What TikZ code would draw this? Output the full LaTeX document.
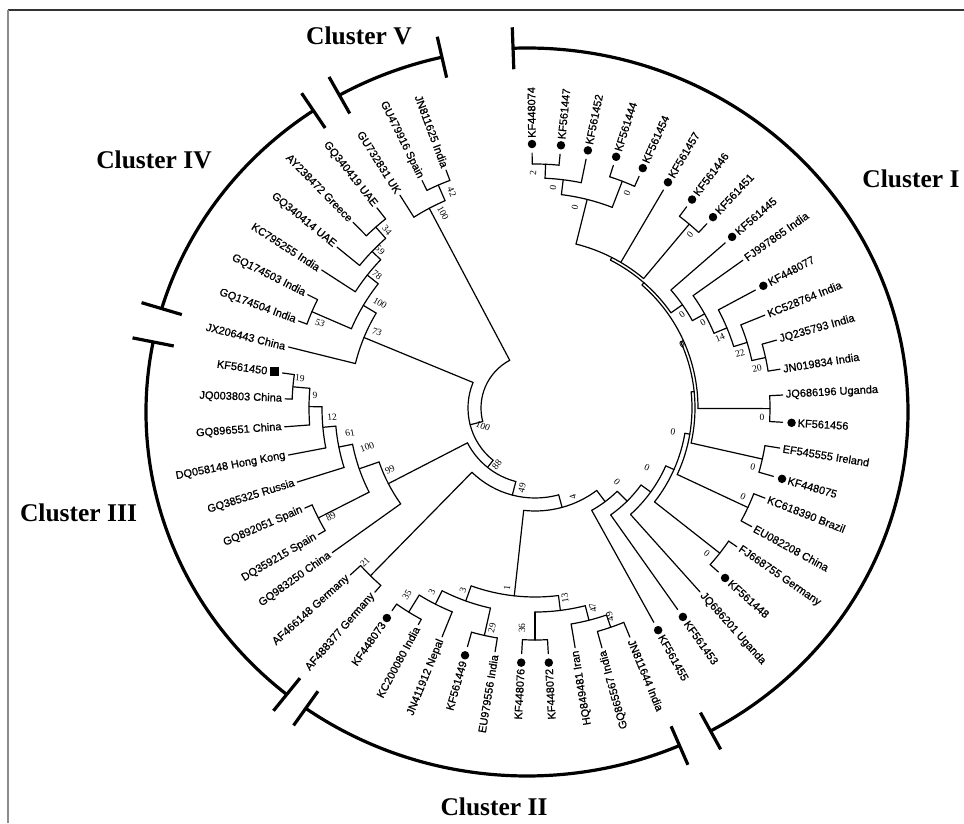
\documentclass[tikz,border=0pt]{standalone}
\usepackage{fontspec}
\setmainfont{Liberation Serif}
\newfontfamily\labfont[FakeBold=0.8]{Liberation Sans}
\tikzset{
  br/.style={line width=1.2pt, line cap=round},
  lab/.style={font=\labfont\fontsize{11}{12}\selectfont, inner sep=0pt},
  bs/.style={font=\fontsize{9.5}{10}\selectfont, inner sep=0pt},
  cl/.style={font=\bfseries\fontsize{25.5}{28}\selectfont, inner sep=0pt},
  dotn/.style={circle, fill=black, inner sep=0pt, minimum size=8.5pt},
  sqn/.style={rectangle, fill=black, inner sep=0pt, minimum size=9pt},
  outer/.style={line width=3.2pt},
}
\newcommand{\Arc}[3]{\draw[br] (#2:#1) arc[start angle=#2, end angle=#3, radius=#1pt];}
\newcommand{\Lnk}[3]{\draw[br] (#1:#2) -- (#1:#3);}
\newcommand{\LabR}[4]{\node[lab,rotate=#2,anchor=west] (#1) at (#2:#3) {#4};}
\newcommand{\LabL}[4]{\node[lab,rotate=#2+180,anchor=east] (#1) at (#2:#3) {#4};}
\newcommand{\Dot}[3]{\node[dotn] (#1) at (#2:#3) {};}
\newcommand{\BS}[5]{\node[bs,rotate=#4] (#1) at (#2,#3) {#5};}
\newcommand{\Clu}[2]{%
  \draw[outer] ({-8+381*cos(#1)},{-4+364*sin(#1)}) arc[start angle=#1, end angle=#2, x radius=381pt, y radius=364pt];
  \draw[outer] ({-8+360*cos(#1)},{-4+343*sin(#1)}) -- ({-8+402*cos(#1)},{-4+385*sin(#1)});
  \draw[outer] ({-8+360*cos(#2)},{-4+343*sin(#2)}) -- ({-8+402*cos(#2)},{-4+385*sin(#2)});}
\begin{document}
\begin{tikzpicture}[x=1pt,y=1pt]
\useasboundingbox (-535,-415) rectangle (429,408);
% frame lines
\draw[line width=1.5pt, black!80] (-527,398) -- (429,398);
\draw[line width=1.8pt, black!45] (-527,398) -- (-527,-415);
% ---------- tree ----------
\Arc{54}{117.9}{194.5}
% cluster V
\Lnk{117.9}{54}{226} \Arc{226}{113.45}{122.4}
\Lnk{122.4}{226}{252}
\Lnk{113.45}{226}{243} \Arc{243}{110.5}{116.4}
\Lnk{116.4}{243}{254} \Lnk{110.5}{243}{254}
% N100
\Lnk{194.5}{54}{67} \Arc{67}{157.6}{231.35}
% cluster IV
\Lnk{157.6}{67}{185} \Arc{185}{149.13}{166.1}
\Lnk{166.1}{185}{254}
\Lnk{149.13}{185}{200} \Arc{200}{141.6}{156.65}
\Lnk{156.65}{200}{243} \Arc{243}{153.5}{159.8}
\Lnk{159.8}{243}{252} \Lnk{153.5}{243}{254}
\Lnk{141.6}{200}{214} \Arc{214}{136.13}{147.1}
\Lnk{147.1}{214}{254}
\Lnk{136.13}{214}{226} \Arc{226}{131.35}{140.9}
\Lnk{140.9}{226}{255}
\Lnk{131.35}{226}{241} \Arc{241}{128.3}{134.4}
\Lnk{134.4}{241}{260} \Lnk{128.3}{241}{255}
% N88
\Lnk{231.35}{67}{76} \Arc{76}{207.29}{255.4}
% cluster III
\Lnk{207.29}{76}{165} \Arc{165}{199.08}{215.5}
\Lnk{215.5}{165}{249}
\Lnk{199.08}{165}{186} \Arc{186}{191.25}{206.9}
\Lnk{206.9}{186}{243} \Arc{243}{203.5}{210.3}
\Lnk{203.5}{243}{251} \Lnk{210.3}{243}{251}
\Lnk{191.25}{186}{200} \Arc{200}{185.2}{197.3}
\Lnk{197.3}{200}{249}
\Lnk{185.2}{200}{213} \Arc{213}{179.65}{190.8}
\Lnk{190.8}{213}{251}
\Lnk{179.65}{213}{226} \Arc{226}{175}{184.3}
\Lnk{184.3}{226}{251}
\Lnk{175}{226}{243} \Arc{243}{172.1}{177.9}
\Lnk{177.9}{243}{250} \Lnk{172.1}{243}{255}
% N49
\Lnk{255.4}{76}{90} \Arc{90}{225.55}{285.26}
\Lnk{225.55}{90}{235} \Arc{235}{222.1}{229}
\Lnk{222.1}{235}{249} \Lnk{229}{235}{244}
% N4
\Lnk{285.26}{90}{103} \Arc{103}{263.7}{306.83}
% cluster II
\Lnk{263.7}{103}{189} \Arc{189}{250.26}{277.14}
\Lnk{250.26}{189}{205} \Arc{205}{243.07}{257.45}
\Lnk{243.07}{205}{220} \Arc{220}{238.25}{247.9}
\Lnk{247.9}{220}{247}
\Lnk{238.25}{220}{240} \Arc{240}{234.8}{241.7}
\Lnk{241.7}{240}{246} \Lnk{234.8}{240}{248}
\Lnk{257.45}{205}{233} \Arc{233}{254.2}{260.7}
\Lnk{260.7}{233}{247} \Lnk{254.2}{233}{248}
\Lnk{277.14}{189}{204} \Arc{204}{270}{284.27}
\Lnk{270}{204}{232} \Arc{232}{266.9}{273.1}
\Lnk{273.1}{232}{246} \Lnk{266.9}{232}{246}
\Lnk{284.27}{204}{219} \Arc{219}{279.5}{289.05}
\Lnk{279.5}{219}{243}
\Lnk{289.05}{219}{232} \Arc{232}{285.6}{292.5}
\Lnk{285.6}{232}{249} \Lnk{292.5}{232}{248}
% cluster I spine
\Lnk{306.83}{103}{117} \Arc{117}{299}{314.66}
\Lnk{299}{117}{245}
\Lnk{314.66}{117}{131} \Arc{131}{305.3}{324.02}
\Lnk{305.3}{131}{247}
\Lnk{324.02}{131}{143} \Arc{143}{311.9}{336.13}
\Lnk{311.9}{143}{247}
\Lnk{336.13}{143}{152} \Arc{152}{321.85}{350.42}
\Lnk{321.85}{152}{235} \Arc{235}{318.2}{325.5}
\Lnk{325.5}{235}{245} \Lnk{318.2}{235}{246}
\Lnk{350.42}{152}{157} \Arc{157}{334.95}{365.885}
\Lnk{334.95}{157}{235} \Arc{235}{331.3}{338.6}
\Lnk{338.6}{235}{247} \Lnk{331.3}{235}{247}
\Lnk{365.885}{157}{160} \Arc{160}{347.35}{384.42}
\Lnk{347.35}{160}{233} \Arc{233}{344}{350.7}
\Lnk{350.7}{233}{248} \Lnk{344}{233}{248}
\Lnk{384.42}{160}{163} \Arc{163}{359.85}{408.99}
\Lnk{359.85}{163}{235} \Arc{235}{356.7}{363}
\Lnk{363}{235}{248} \Lnk{356.7}{235}{248}
\Lnk{48.99}{163}{166} \Arc{166}{35}{62.98}
\Lnk{35}{166}{180} \Arc{180}{29.03}{40.96}
\Lnk{40.96}{180}{252}
\Lnk{29.03}{180}{194} \Arc{194}{22.66}{35.4}
\Lnk{35.4}{194}{255}
\Lnk{22.66}{194}{208} \Arc{208}{17.18}{28.15}
\Lnk{28.15}{208}{250}
\Lnk{17.18}{208}{222} \Arc{222}{12.35}{22}
\Lnk{22}{222}{248}
\Lnk{12.35}{222}{236} \Arc{236}{9}{15.7}
\Lnk{15.7}{236}{251} \Lnk{9}{236}{248}
\Lnk{62.98}{166}{169} \Arc{169}{50}{75.95}
\Lnk{59.5}{169}{253}
\Lnk{50}{169}{240} \Arc{240}{47}{53}
\Lnk{53}{240}{252} \Lnk{47}{240}{252}
\Lnk{75.95}{169}{215} \Arc{215}{68.95}{82.95}
\Lnk{82.95}{215}{230} \Arc{230}{78.4}{87.5}
\Lnk{78.4}{230}{254}
\Lnk{87.5}{230}{244} \Arc{244}{84.35}{90.65}
\Lnk{90.65}{244}{255} \Lnk{84.35}{244}{255}
\Lnk{68.95}{215}{243} \Arc{243}{65.8}{72.1}
\Lnk{72.1}{243}{255} \Lnk{65.8}{243}{254}
% ---------- markers ----------
\Dot{d1}{90.65}{264} \Dot{d2}{84.35}{264} \Dot{d3}{78.4}{263} \Dot{d4}{72.1}{264}
\Dot{d5}{65.8}{263} \Dot{d6}{59.5}{262} \Dot{d7}{53}{261} \Dot{d8}{47}{261}
\Dot{d9}{40.96}{261} \Dot{d11}{28.15}{259} \Dot{d16}{-3.3}{257} \Dot{d18}{-16}{257}
\Dot{d22}{-41.8}{255} \Dot{d24}{-54.7}{256} \Dot{d25}{-61}{254} \Dot{d29}{-86.9}{255}
\Dot{d30}{-93.1}{255} \Dot{d32}{-105.8}{257} \Dot{d35}{-125.2}{257}
\node[sqn] (d45) at (172.1:263) {};
% ---------- leaf labels ----------
\LabR{t1}{90.65}{270}{KF448074}
\LabR{t2}{84.35}{270}{KF561447}
\LabR{t3}{78.4}{269}{KF561452}
\LabR{t4}{72.1}{270}{KF561444}
\LabR{t5}{65.8}{269}{KF561454}
\LabR{t6}{59.5}{268}{KF561457}
\LabR{t7}{53}{267}{KF561446}
\LabR{t8}{47}{267}{KF561451}
\LabR{t9}{40.96}{267}{KF561445}
\LabR{t10}{35.4}{258}{FJ997865 India}
\LabR{t11}{28.15}{265}{KF448077}
\LabR{t12}{22}{251}{KC528764 India}
\LabR{t13}{15.7}{254}{JQ235793 India}
\LabR{t14}{9}{251}{JN019834 India}
\LabR{t15}{3}{251}{JQ686196 Uganda}
\LabR{t16}{-3.3}{263}{KF561456}
\LabR{t17}{-9.3}{251}{EF545555 Ireland}
\LabR{t18}{-16}{263}{KF448075}
\LabR{t19}{-21.4}{250}{KC618390 Brazil}
\LabR{t20}{-28.7}{250}{EU082208 China}
\LabR{t21}{-34.5}{248}{FJ668755 Germany}
\LabR{t22}{-41.8}{261}{KF561448}
\LabR{t23}{-48.1}{250}{JQ686201 Uganda}
\LabR{t24}{-54.7}{262}{KF561453}
\LabR{t25}{-61}{260}{KF561455}
\LabR{t26}{-67.5}{251}{JN811644 India}
\LabL{t27}{-74.4}{252}{GQ865567 India}
\LabL{t28}{-80.5}{246}{HQ849481 Iran}
\LabL{t29}{-86.9}{261}{KF448072}
\LabL{t30}{-93.1}{261}{KF448076}
\LabL{t31}{-99.3}{250}{EU979556 India}
\LabL{t32}{-105.8}{263}{KF561449}
\LabL{t33}{-112.1}{250}{JN411912 Nepal}
\LabL{t34}{-118.3}{249}{KC200080 India}
\LabL{t35}{-125.2}{263}{KF448073}
\LabL{t36}{-131}{247}{AF488377 Germany}
\LabL{t37}{-137.9}{252}{AF466148 Germany}
\LabL{t38}{-144.5}{252}{GQ983250 China}
\LabL{t39}{-149.7}{254}{DQ359215 Spain}
\LabL{t40}{-156.5}{254}{GQ892051 Spain}
\LabL{t41}{-162.7}{252}{GQ385325 Russia}
\LabL{t42}{-169.2}{254}{DQ058148 Hong Kong}
\LabL{t43}{-175.7}{254}{GQ896551 China}
\LabL{t44}{177.9}{253}{JQ003803 China}
\LabL{t45}{172.1}{270}{KF561450}
\LabL{t46}{166.1}{257}{JX206443 China}
\LabL{t47}{159.8}{255}{GQ174504 India}
\LabL{t48}{153.5}{257}{GQ174503 India}
\LabL{t49}{147.1}{257}{KC795255 India}
\LabL{t50}{140.9}{258}{GQ340414 UAE}
\LabL{t51}{134.4}{263}{AY238472 Greece}
\LabL{t52}{128.3}{258}{GQ340419 UAE}
\LabL{t53}{122.4}{255}{GU732831 UK}
\LabL{t54}{116.4}{257}{GU479916 Spain}
\LabL{t55}{110.5}{257}{JN811625 India}
% ---------- bootstrap values ----------
\BS{b1}{-2}{235}{87.5}{2}
\BS{b2}{18}{220}{83}{0}
\BS{b3}{92}{215}{69}{0}
\BS{b4}{40}{201}{76}{0}
\BS{b5}{155}{173}{50}{0}
\BS{b6}{147}{93}{35}{0}
\BS{b7}{168}{85}{29}{0}
\BS{b8}{147}{63}{24}{0}
\BS{b9}{185}{70}{23}{14}
\BS{b10}{205}{55}{17}{22}
\BS{b11}{222}{40}{12}{20}
\BS{b12}{227}{-9}{0}{0}
\BS{b13}{218}{-59}{-13}{0}
\BS{b14}{208}{-89}{-25}{0}
\BS{b15}{172}{-146}{-38}{0}
\BS{b16}{138}{-24}{-10}{0}
\BS{b17}{112}{-60}{-24}{0}
\BS{b18}{82}{-74}{-45}{0}
\BS{b19}{38}{-89}{105}{4}
\BS{b20}{-13}{-80}{75}{49}
\BS{b21}{-38}{-57}{51}{88}
\BS{b22}{-52}{-18}{-22}{100}
\BS{b23}{-28}{-180}{84}{1}
\BS{b24}{-72}{-182}{70}{3}
\BS{b25}{-103}{-184}{63}{3}
\BS{b26}{-128}{-187}{58}{35}
\BS{b27}{-43}{-220}{77}{29}
\BS{b28}{-13}{-220}{90}{36}
\BS{b29}{30}{-190}{97}{13}
\BS{b30}{58}{-200}{104}{47}
\BS{b31}{75}{-209}{109}{49}
\BS{b32}{-235}{30}{-5}{19}
\BS{b33}{-220}{13}{0}{9}
\BS{b34}{-203}{-9}{5}{12}
\BS{b35}{-185}{-25}{11}{61}
\BS{b36}{-168}{-39}{19}{100}
\BS{b37}{-145}{-62}{27}{99}
\BS{b38}{-204}{-109}{27}{89}
\BS{b39}{-170}{-154}{45}{21}
\BS{b40}{-158}{76}{-22}{73}
\BS{b41}{-155}{105}{-31}{100}
\BS{b42}{-158}{133}{-38}{78}
\BS{b43}{-155}{158}{-44}{59}
\BS{b44}{-148}{178}{-49}{34}
\BS{b45}{-215}{85}{-23}{53}
\BS{b46}{-92}{195}{-62}{100}
\BS{b47}{-83}{216}{-67}{42}
% ---------- cluster arcs ----------
\Clu{92.1}{-61.2}
\Clu{-66.4}{-125.5}
\Clu{-129.1}{-191.1}
\Clu{163.5}{124.1}
\Clu{119.5}{102.9}
\node[cl] (c1) at (376,229) {Cluster I};
\node[cl] (c2) at (-41,-399) {Cluster II};
\node[cl] (c3) at (-456.5,-105) {Cluster III};
\node[cl] (c4) at (-381,248) {Cluster IV};
\node[cl] (c5) at (-176,372) {Cluster V};
\end{tikzpicture}
\end{document}
